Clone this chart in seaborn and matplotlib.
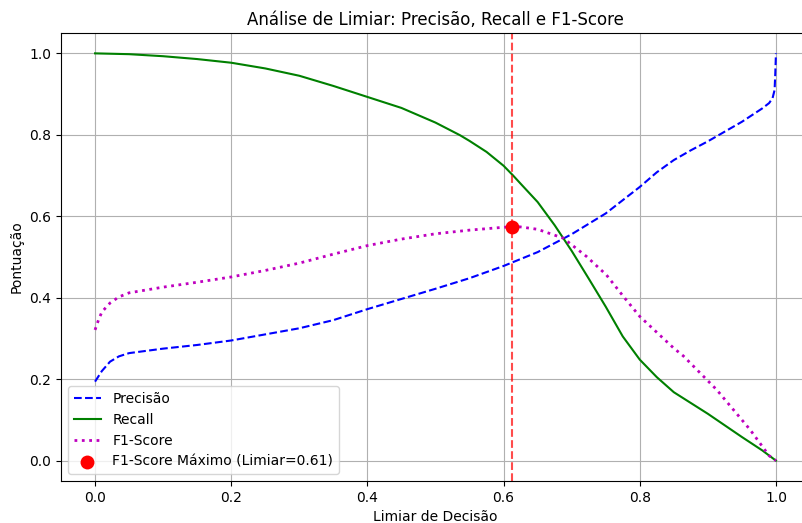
import matplotlib
matplotlib.use("Agg")
import matplotlib.pyplot as plt
import seaborn as sns

# Precision curve
prec_thr = [0.0, 0.01, 0.022, 0.035, 0.05, 0.1, 0.15, 0.2, 0.25, 0.3, 0.35, 0.4, 0.45, 0.5,
            0.55, 0.6, 0.65, 0.7, 0.75, 0.8, 0.825, 0.85, 0.875, 0.9, 0.95, 0.98, 0.99, 0.995, 0.998, 0.999, 1.0]
prec_val = [0.194, 0.22, 0.243, 0.256, 0.264, 0.275, 0.284, 0.295, 0.31, 0.325, 0.345, 0.372, 0.397, 0.422,
            0.448, 0.478, 0.512, 0.556, 0.607, 0.672, 0.708, 0.738, 0.762, 0.784, 0.832, 0.865, 0.878, 0.89, 0.91, 0.95, 1.0]

# Recall curve
rec_thr = [0.0, 0.05, 0.1, 0.15, 0.2, 0.25, 0.3, 0.35, 0.4, 0.45, 0.5, 0.536, 0.55, 0.575, 0.6, 0.614, 0.625, 0.65,
           0.675, 0.7, 0.725, 0.75, 0.775, 0.8, 0.825, 0.85, 0.9, 0.95, 0.98, 1.0]
rec_val = [1.0, 0.998, 0.993, 0.986, 0.977, 0.963, 0.945, 0.92, 0.893, 0.866, 0.83, 0.799, 0.785, 0.758, 0.724, 0.70, 0.68, 0.635,
           0.578, 0.515, 0.447, 0.378, 0.305, 0.248, 0.205, 0.168, 0.115, 0.058, 0.025, 0.0]

# F1 curve
f1_thr = [0.0, 0.005, 0.01, 0.022, 0.035, 0.05, 0.1, 0.15, 0.2, 0.25, 0.3, 0.35, 0.4, 0.45, 0.5, 0.55,
          0.6, 0.614, 0.624, 0.65, 0.688, 0.7, 0.722, 0.751, 0.776, 0.8, 0.85, 0.864, 0.913, 0.962, 0.99, 1.0]
f1_val = [0.321, 0.345, 0.365, 0.387, 0.402, 0.412, 0.426, 0.438, 0.451, 0.467, 0.485, 0.507, 0.528, 0.544, 0.557, 0.566,
          0.573, 0.5745, 0.574, 0.568, 0.546, 0.53, 0.501, 0.456, 0.403, 0.354, 0.276, 0.257, 0.174, 0.076, 0.012, 0.0]

best_thr = [0.612]
best_f1 = [0.5745]
best_label = "F1-Score Máximo (Limiar=0.61)"

fig = plt.figure(figsize=(8.03, 5.23), dpi=100)
ax = fig.add_axes([61/803, 42/523, 749/803, 448/523])

sns.lineplot(x=prec_thr, y=prec_val, ax=ax, color="b", linestyle="--", linewidth=1.5, label="Precisão")
sns.lineplot(x=rec_thr, y=rec_val, ax=ax, color="g", linestyle="-", linewidth=1.5, label="Recall")
sns.lineplot(x=f1_thr, y=f1_val, ax=ax, color="m", linestyle=":", linewidth=2, label="F1-Score")
ax.axvline(best_thr[0], color="r", linestyle="--", alpha=0.7, linewidth=1.5)
sns.scatterplot(x=best_thr, y=best_f1, ax=ax, color="red", s=100, linewidth=0, zorder=5, label=best_label)

ax.set_xlim(-0.05, 1.05)
ax.set_ylim(-0.05, 1.05)
ax.set_title("Análise de Limiar: Precisão, Recall e F1-Score")
ax.set_xlabel("Limiar de Decisão")
ax.set_ylabel("Pontuação")
ax.grid(True)
ax.legend(loc="lower left")

fig.savefig("out.png", dpi=100)
